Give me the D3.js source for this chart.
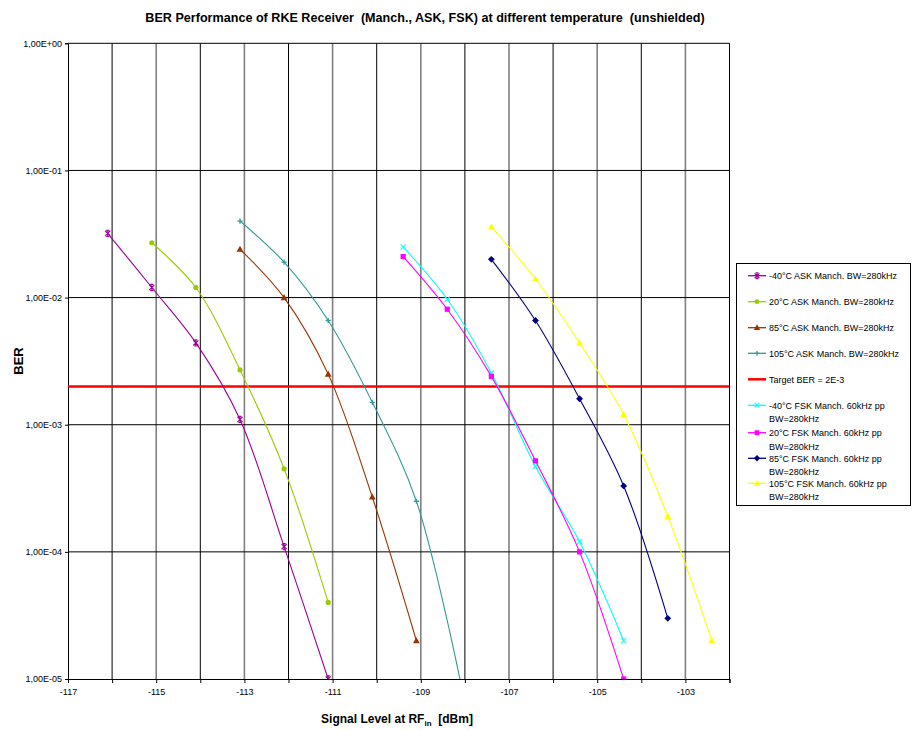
<!DOCTYPE html>
<html>
<head>
<meta charset="utf-8">
<script src="https://cdn.jsdelivr.net/npm/d3@7"></script>
<style>
  html, body { margin: 0; padding: 0; background: #fff; }
  svg { display: block; font-family: "Liberation Sans", Arial, sans-serif; }
</style>
</head>
<body>
<svg id="chart" width="917" height="730"></svg>
<script>
// Signal level at RF input (dBm) and measured bit error rate per curve
const ask40x  = [-116.1, -115.1, -114.1, -113.1, -112.1, -111.1];
const ask40y  = [3.2e-2, 1.2e-2, 4.4e-3, 1.1e-3, 1.1e-4, 1.0e-5];
const ask20x  = [-115.1, -114.1, -113.1, -112.1, -111.1];
const ask20y  = [2.7e-2, 1.2e-2, 2.7e-3, 4.5e-4, 4.0e-5];
const ask85x  = [-113.1, -112.1, -111.1, -110.1, -109.1];
const ask85y  = [2.4e-2, 1.0e-2, 2.5e-3, 2.7e-4, 2.0e-5];
const ask105x = [-113.1, -112.1, -111.1, -110.1, -109.1, -108.1];
const ask105y = [4.0e-2, 1.9e-2, 6.6e-3, 1.5e-3, 2.5e-4, 9.5e-6];
const fsk40x  = [-109.4, -108.4, -107.4, -106.4, -105.4, -104.4];
const fsk40y  = [2.5e-2, 9.7e-3, 2.55e-3, 4.7e-4, 1.2e-4, 2.0e-5];
const fsk20x  = [-109.4, -108.4, -107.4, -106.4, -105.4, -104.4];
const fsk20y  = [2.1e-2, 8.1e-3, 2.4e-3, 5.2e-4, 1.0e-4, 1.0e-5];
const fsk85x  = [-107.4, -106.4, -105.4, -104.4, -103.4];
const fsk85y  = [2.0e-2, 6.6e-3, 1.6e-3, 3.3e-4, 3.0e-5];
const fsk105x = [-107.4, -106.4, -105.4, -104.4, -103.4, -102.4];
const fsk105y = [3.6e-2, 1.4e-2, 4.4e-3, 1.2e-3, 1.9e-4, 2.0e-5];
const targetBER = 2e-3;

const xTicks = [-117, -115, -113, -111, -109, -107, -105, -103];
const yTicks = [1, 1e-1, 1e-2, 1e-3, 1e-4, 1e-5];
const yTickLabels = ["1,00E+00", "1,00E-01", "1,00E-02", "1,00E-03", "1,00E-04", "1,00E-05"];

const seriesNames = [
  "-40°C ASK Manch. BW=280kHz",
  "20°C ASK Manch. BW=280kHz",
  "85°C ASK Manch. BW=280kHz",
  "105°C ASK Manch. BW=280kHz",
  "-40°C FSK Manch. 60kHz pp BW=280kHz",
  "20°C FSK Manch. 60kHz pp BW=280kHz",
  "85°C FSK Manch. 60kHz pp BW=280kHz",
  "105°C FSK Manch. 60kHz pp BW=280kHz"
];
const targetName = "Target BER = 2E-3";

const series = [
  { name: seriesNames[0], xs: ask40x,  ys: ask40y,  color: "#990099", marker: "star" },
  { name: seriesNames[1], xs: ask20x,  ys: ask20y,  color: "#99CC00", marker: "circle" },
  { name: seriesNames[2], xs: ask85x,  ys: ask85y,  color: "#993300", marker: "triangle" },
  { name: seriesNames[3], xs: ask105x, ys: ask105y, color: "#339999", marker: "plus" },
  { name: seriesNames[4], xs: fsk40x,  ys: fsk40y,  color: "#00FFFF", marker: "x" },
  { name: seriesNames[5], xs: fsk20x,  ys: fsk20y,  color: "#FF00FF", marker: "square" },
  { name: seriesNames[6], xs: fsk85x,  ys: fsk85y,  color: "#000080", marker: "diamond" },
  { name: seriesNames[7], xs: fsk105x, ys: fsk105y, color: "#FFFF00", marker: "triangle" }
];

const svg = d3.select("#chart");
const plot = { left: 68, right: 729.5, top: 43.3, bottom: 679 };

const x = d3.scaleLinear().domain([-117, -102]).range([plot.left, plot.right]);
const y = d3.scaleLog().domain([1e-5, 1]).range([plot.bottom, plot.top]);

// Title
svg.append("text")
  .attr("x", 425).attr("y", 22)
  .attr("text-anchor", "middle")
  .attr("font-size", 12.6).attr("font-weight", "bold")
  .attr("fill", "#000")
  .attr("xml:space", "preserve")
  .text("BER Performance of RKE Receiver  (Manch., ASK, FSK) at different temperature  (unshielded)");

// Grid: one vertical line per dBm, one horizontal per decade
const grid = svg.append("g");
grid.selectAll("line.v").data(d3.range(-116, -101)).join("line")
  .attr("x1", d => x(d)).attr("x2", d => x(d))
  .attr("y1", plot.top).attr("y2", plot.bottom)
  .attr("stroke", d => (Math.abs(d) % 2 === 1 ? "#808080" : "#000"))
  .attr("stroke-width", d => (Math.abs(d) % 2 === 1 ? 1.6 : 1));
grid.selectAll("line.h").data(yTicks.slice(0, 5)).join("line")
  .attr("x1", plot.left).attr("x2", plot.right)
  .attr("y1", d => y(d)).attr("y2", d => y(d))
  .attr("stroke", "#000").attr("stroke-width", 1);

// Axes
const xAxis = d3.axisBottom(x)
  .tickValues(d3.range(-117, -101))
  .tickSize(4)
  .tickFormat(d => (xTicks.includes(d) ? String(d) : ""));
const gx = svg.append("g").attr("transform", `translate(0,${plot.bottom})`).call(xAxis);
gx.select(".domain").attr("stroke", "#000");
gx.selectAll(".tick line").attr("stroke", "#000");
gx.selectAll(".tick text").attr("font-size", 9).attr("font-family", "Liberation Sans, Arial, sans-serif").attr("dy", "1.05em").attr("fill", "#000");

const yAxis = d3.axisLeft(y)
  .tickValues(yTicks)
  .tickSize(3)
  .tickFormat((d, i) => yTickLabels[i]);
const gy = svg.append("g").attr("transform", `translate(${plot.left},0)`).call(yAxis);
gy.select(".domain").attr("stroke", "#000");
gy.selectAll(".tick line").attr("stroke", "#000");
gy.selectAll(".tick text").attr("font-size", 9).attr("font-family", "Liberation Sans, Arial, sans-serif").attr("fill", "#000");

// Axis titles
const xt = svg.append("text")
  .attr("x", 397).attr("y", 723)
  .attr("text-anchor", "middle")
  .attr("font-size", 12).attr("font-weight", "bold").attr("fill", "#000")
  .attr("xml:space", "preserve");
xt.append("tspan").text("Signal Level at RF");
xt.append("tspan").attr("font-size", 8).attr("dy", 3).text("in");
xt.append("tspan").attr("dy", -3).text("  [dBm]");

svg.append("text")
  .attr("transform", "translate(23,361) rotate(-90)")
  .attr("text-anchor", "middle")
  .attr("font-size", 13).attr("font-weight", "bold").attr("fill", "#000")
  .text("BER");

// Clip the curves to the plot area
svg.append("defs").append("clipPath").attr("id", "plotClip")
  .append("rect")
  .attr("x", plot.left).attr("y", plot.top)
  .attr("width", plot.right - plot.left).attr("height", plot.bottom - plot.top);

const line = d3.line()
  .x(d => x(d[0])).y(d => y(d[1]))
  .curve(d3.curveCatmullRom.alpha(0.5));

function drawMarker(g, type, color, size) {
  const s = size;
  switch (type) {
    case "star":
      g.append("path").attr("d", `M${-s},${-s}L${s},${s}M${-s},${s}L${s},${-s}M0,${-s-0.5}L0,${s+0.5}M${-s*0.6},${-s-0.5}L${s*0.6},${-s-0.5}M${-s*0.6},${s+0.5}L${s*0.6},${s+0.5}`)
        .attr("stroke", color).attr("stroke-width", 1.1).attr("fill", "none");
      break;
    case "x":
      g.append("path").attr("d", `M${-s},${-s}L${s},${s}M${-s},${s}L${s},${-s}`)
        .attr("stroke", color).attr("stroke-width", 1.1).attr("fill", "none");
      break;
    case "plus":
      g.append("path").attr("d", `M${-s},0L${s},0M0,${-s}L0,${s}`)
        .attr("stroke", color).attr("stroke-width", 1.3).attr("fill", "none");
      break;
    case "circle":
      g.append("circle").attr("r", s).attr("fill", color);
      break;
    case "square":
      g.append("rect").attr("x", -s).attr("y", -s).attr("width", 2 * s).attr("height", 2 * s).attr("fill", color);
      break;
    case "diamond":
      g.append("path").attr("d", `M0,${-s - 0.8}L${s + 0.8},0L0,${s + 0.8}L${-s - 0.8},0Z`).attr("fill", color);
      break;
    case "triangle":
      g.append("path").attr("d", `M0,${-s - 1}L${s + 0.8},${s}L${-s - 0.8},${s}Z`).attr("fill", color);
      break;
  }
}

// Target BER reference line
svg.append("line")
  .attr("x1", plot.left).attr("x2", plot.right)
  .attr("y1", y(targetBER)).attr("y2", y(targetBER))
  .attr("stroke", "#FF0000").attr("stroke-width", 2.5);

const curves = svg.append("g").attr("clip-path", "url(#plotClip)");
series.forEach(s => {
  const pts = s.xs.map((v, i) => [v, s.ys[i]]);
  curves.append("path").datum(pts)
    .attr("d", line)
    .attr("fill", "none")
    .attr("stroke", s.color)
    .attr("stroke-width", 1.1);
  pts.forEach(p => {
    if (p[1] < 1e-5 * 0.99) return;
    const g = curves.append("g").attr("transform", `translate(${x(p[0])},${y(p[1])})`);
    drawMarker(g, s.marker, s.color, 2.6);
  });
});

// Legend
const legend = svg.append("g");
legend.append("rect")
  .attr("x", 736.5).attr("y", 263.5).attr("width", 174).attr("height", 242)
  .attr("fill", "#fff").attr("stroke", "#000").attr("stroke-width", 1);

const legendRows = [
  { s: series[0], y: 275.7, lines: [seriesNames[0]] },
  { s: series[1], y: 301.7, lines: [seriesNames[1]] },
  { s: series[2], y: 327.7, lines: [seriesNames[2]] },
  { s: series[3], y: 353.3, lines: [seriesNames[3]] },
  { s: null,      y: 379.3, lines: [targetName] },
  { s: series[4], y: 405.3, lines: ["-40°C FSK Manch. 60kHz pp", "BW=280kHz"] },
  { s: series[5], y: 432.7, lines: ["20°C FSK Manch. 60kHz pp", "BW=280kHz"] },
  { s: series[6], y: 458.3, lines: ["85°C FSK Manch. 60kHz pp", "BW=280kHz"] },
  { s: series[7], y: 483.3, lines: ["105°C FSK Manch. 60kHz pp", "BW=280kHz"] }
];
legendRows.forEach(r => {
  const color = r.s ? r.s.color : "#FF0000";
  legend.append("line")
    .attr("x1", 748).attr("x2", 766).attr("y1", r.y).attr("y2", r.y)
    .attr("stroke", color).attr("stroke-width", r.s ? 1.3 : 2.5);
  if (r.s) {
    const g = legend.append("g").attr("transform", `translate(757,${r.y})`);
    drawMarker(g, r.s.marker, r.s.color, 2.4);
  }
  r.lines.forEach((t, i) => {
    legend.append("text")
      .attr("x", 769).attr("y", r.y + i * 13.5 + 3.3)
      .attr("font-size", 9).attr("fill", "#000")
      .text(t);
  });
});
</script>
</body>
</html>
